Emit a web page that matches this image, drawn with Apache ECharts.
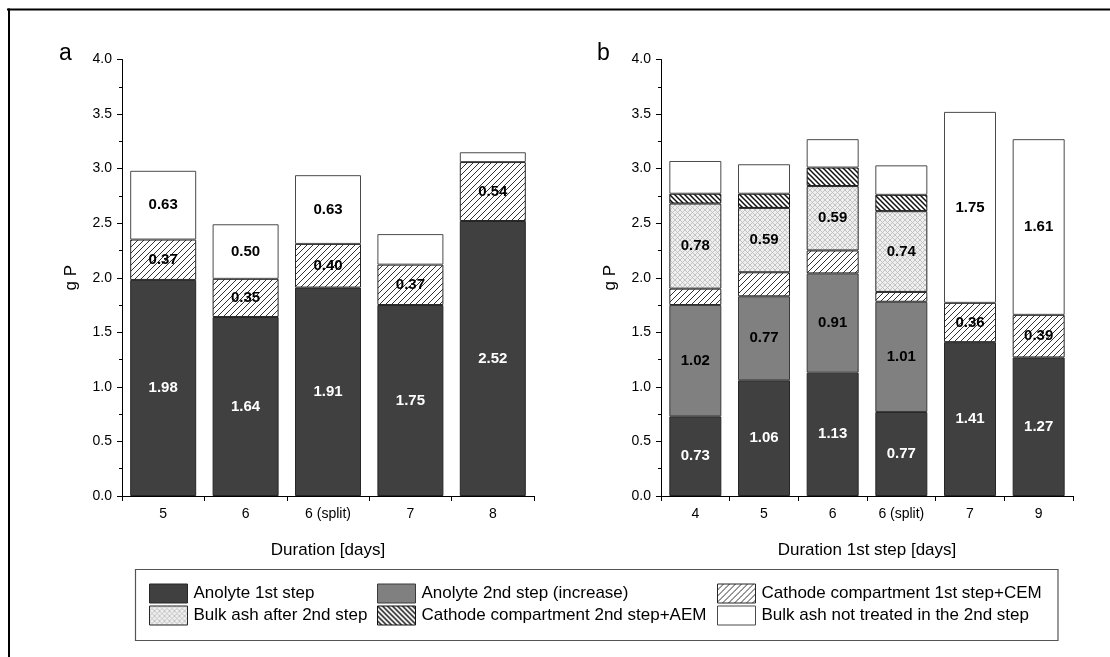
<!DOCTYPE html>
<html>
<head>
<meta charset="utf-8">
<script src="https://cdn.jsdelivr.net/npm/echarts@6/dist/echarts.min.js"></script>
<style>
html,body{margin:0;padding:0;background:#fff;}
#chart{width:1110px;height:657px;}
</style>
</head>
<body>
<div id="chart"></div>
<script>
// ---- data ----
var categoriesA = ['5', '6', '6 (split)', '7', '8'];
var categoriesB = ['4', '5', '6', '6 (split)', '7', '9'];

var anolyte1A = [1.98, 1.64, 1.91, 1.75, 2.52];
var cathode1A = [0.37, 0.35, 0.40, 0.37, 0.54];
var bulkNotA  = [0.63, 0.50, 0.63, 0.28, 0.09];

var anolyte1B  = [0.73, 1.06, 1.13, 0.77, 1.41, 1.27];
var anolyte2B  = [1.02, 0.77, 0.91, 1.01, null, null];
var cathode1B  = [0.15, 0.22, 0.21, 0.09, 0.36, 0.39];
var bulkAfterB = [0.78, 0.59, 0.59, 0.74, null, null];
var cathode2B  = [0.09, 0.13, 0.17, 0.15, null, null];
var bulkNotB   = [0.30, 0.27, 0.26, 0.27, 1.75, 1.61];

var yTicks = ['0.0','0.5','1.0','1.5','2.0','2.5','3.0','3.5','4.0'];

var NAMES = {
  an1: 'Anolyte 1st step',
  an2: 'Anolyte 2nd step (increase)',
  c1: 'Cathode compartment 1st step+CEM',
  bulkAfter: 'Bulk ash after 2nd step',
  c2: 'Cathode compartment 2nd step+AEM',
  bulkNot: 'Bulk ash not treated in the 2nd step'
};

// ---- patterns ----
function makeTile(size, bg, draw) {
  var c = document.createElement('canvas');
  c.width = size; c.height = size;
  var ctx = c.getContext('2d');
  ctx.fillStyle = bg; ctx.fillRect(0, 0, size, size);
  draw(ctx, size);
  return c;
}
function fwd(ctx, s) { // "/"
  ctx.beginPath();
  ctx.moveTo(-1, s + 1); ctx.lineTo(s + 1, -1);
  ctx.moveTo(-1, 1); ctx.lineTo(1, -1);
  ctx.moveTo(s - 1, s + 1); ctx.lineTo(s + 1, s - 1);
  ctx.stroke();
}
function bwd(ctx, s) { // "\"
  ctx.beginPath();
  ctx.moveTo(-1, -1); ctx.lineTo(s + 1, s + 1);
  ctx.moveTo(-1, s - 1); ctx.lineTo(1, s + 1);
  ctx.moveTo(s - 1, -1); ctx.lineTo(s + 1, 1);
  ctx.stroke();
}
var hatchFwd = makeTile(6, '#ffffff', function (ctx, s) {
  ctx.strokeStyle = '#333333'; ctx.lineWidth = 1; fwd(ctx, s);
});
var hatchBwd = makeTile(5, '#ffffff', function (ctx, s) {
  ctx.strokeStyle = '#111111'; ctx.lineWidth = 1.5; bwd(ctx, s);
});
var crossTile = makeTile(5, '#efefef', function (ctx, s) {
  ctx.strokeStyle = '#bdbdbd'; ctx.lineWidth = 0.9; fwd(ctx, s); bwd(ctx, s);
});

var FONT = 'Liberation Sans, Arial, Helvetica, sans-serif';

var styles = {
  an1: { color: '#404040', borderColor: '#262626', borderWidth: 1 },
  an2: { color: '#808080', borderColor: '#3a3a3a', borderWidth: 1 },
  c1: { color: { image: hatchFwd, repeat: 'repeat' }, borderColor: '#262626', borderWidth: 1 },
  bulkAfter: { color: { image: crossTile, repeat: 'repeat' }, borderColor: '#262626', borderWidth: 1 },
  c2: { color: { image: hatchBwd, repeat: 'repeat' }, borderColor: '#111111', borderWidth: 1 },
  bulkNot: { color: '#ffffff', borderColor: '#4a4a4a', borderWidth: 1 }
};

function labelCfg(color) {
  return {
    show: true,
    position: 'inside',
    color: color,
    fontFamily: FONT,
    fontWeight: 'bold',
    fontSize: 15,
    textBorderWidth: 0,
    formatter: function (p) {
      var v = p.value;
      if (v == null || v < 0.33) return '';
      return Number(v).toFixed(2);
    }
  };
}

function mkSeries(key, data, gridIdx, barWidth) {
  return {
    type: 'bar',
    name: NAMES[key],
    xAxisIndex: gridIdx,
    yAxisIndex: gridIdx,
    stack: 'st' + gridIdx,
    barWidth: barWidth,
    data: data,
    itemStyle: styles[key],
    label: labelCfg(key === 'an1' ? '#ffffff' : '#000000'),
    emphasis: { disabled: true },
    silent: true,
    animation: false
  };
}

function xAxisCfg(cats, gridIdx, name) {
  return {
    type: 'category',
    gridIndex: gridIdx,
    data: cats,
    name: name,
    nameLocation: 'middle',
    nameGap: 46,
    nameTextStyle: { fontFamily: FONT, fontSize: 17, color: '#000' },
    axisLine: { show: true, lineStyle: { color: '#000', width: 1 } },
    axisTick: { show: true, inside: false, length: 5, alignWithLabel: false, interval: 0, lineStyle: { color: '#000' } },
    axisLabel: { fontFamily: FONT, fontSize: 14, color: '#000', margin: 11, interval: 0 },
    splitLine: { show: false }
  };
}
function yAxisCfg(gridIdx) {
  return {
    type: 'value',
    gridIndex: gridIdx,
    min: 0, max: 4, interval: 0.5,
    name: 'g P',
    nameLocation: 'middle',
    nameGap: 42,
    nameTextStyle: { fontFamily: FONT, fontSize: 17, color: '#000' },
    axisLine: { show: true, lineStyle: { color: '#000', width: 1 } },
    axisTick: { show: true, inside: false, length: 5, lineStyle: { color: '#000' } },
    minorTick: { show: true, splitNumber: 2, length: 3, lineStyle: { color: '#000' } },
    axisLabel: {
      fontFamily: FONT, fontSize: 14, color: '#000', margin: 10,
      formatter: function (v) { return yTicks[Math.round(v / 0.5)]; }
    },
    splitLine: { show: false }
  };
}

function legendCol(names, left) {
  return {
    orient: 'vertical',
    left: left, top: 583.5,
    padding: 0,
    itemWidth: 38, itemHeight: 19, itemGap: 2,
    icon: 'rect',
    selectedMode: false,
    itemStyle: { borderColor: 'inherit', borderWidth: 1 },
    textStyle: { fontFamily: FONT, fontSize: 17, color: '#000', padding: [0, 0, 0, 1] },
    data: names
  };
}

var chart = echarts.init(document.getElementById('chart'), null, { renderer: 'canvas' });
chart.setOption({
  animation: false,
  backgroundColor: '#ffffff',
  textStyle: { fontFamily: FONT },
  grid: [
    { left: 122, top: 59.5, width: 412, height: 436.5, containLabel: false, outerBoundsMode: 'none' },
    { left: 661, top: 59.5, width: 412, height: 436.5, containLabel: false, outerBoundsMode: 'none' }
  ],
  xAxis: [
    xAxisCfg(categoriesA, 0, 'Duration [days]'),
    xAxisCfg(categoriesB, 1, 'Duration 1st step [days]')
  ],
  yAxis: [yAxisCfg(0), yAxisCfg(1)],
  legend: [
    legendCol([NAMES.an1, NAMES.bulkAfter], 149),
    legendCol([NAMES.an2, NAMES.c2], 377),
    legendCol([NAMES.c1, NAMES.bulkNot], 717)
  ],
  series: [
    mkSeries('an1', anolyte1A, 0, 66),
    mkSeries('c1', cathode1A, 0, 66),
    mkSeries('bulkNot', bulkNotA, 0, 66),
    mkSeries('an1', anolyte1B, 1, 52),
    mkSeries('an2', anolyte2B, 1, 52),
    mkSeries('c1', cathode1B, 1, 52),
    mkSeries('bulkAfter', bulkAfterB, 1, 52),
    mkSeries('c2', cathode2B, 1, 52),
    mkSeries('bulkNot', bulkNotB, 1, 52)
  ],
  graphic: [
    { type: 'line', silent: true, shape: { x1: 7, y1: 9.5, x2: 1110, y2: 9.5 }, style: { stroke: '#000', lineWidth: 2 } },
    { type: 'line', silent: true, shape: { x1: 9, y1: 8.5, x2: 9, y2: 657 }, style: { stroke: '#000', lineWidth: 2 } },
    { type: 'rect', silent: true, shape: { x: 135.5, y: 569.5, width: 922.5, height: 71 }, style: { fill: null, stroke: '#555', lineWidth: 1.2 } },
    { type: 'text', silent: true, left: 59, top: 42, style: { text: 'a', fontFamily: FONT, fontSize: 23, fill: '#000' } },
    { type: 'text', silent: true, left: 597, top: 42, style: { text: 'b', fontFamily: FONT, fontSize: 23, fill: '#000' } }
  ]
});
</script>
</body>
</html>
